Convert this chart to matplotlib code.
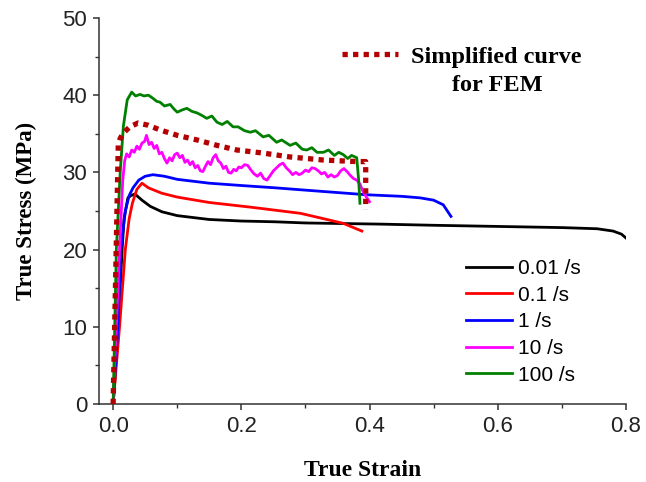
#!/usr/bin/env python3

import matplotlib
matplotlib.use('Agg')
import matplotlib.pyplot as plt
from matplotlib.lines import Line2D
from matplotlib.ticker import MultipleLocator

# 0.01 /s
strain_001 = [0, 0.008, 0.014, 0.017, 0.023, 0.028, 0.034, 0.045, 0.058, 0.076, 0.1, 0.15,
              0.2, 0.253, 0.3, 0.417, 0.5, 0.6, 0.7, 0.755, 0.78, 0.793, 0.8]
stress_001 = [0, 10, 20, 24, 26.7, 27.0, 27.2, 26.4, 25.6, 24.9, 24.4, 23.9,
              23.7, 23.6, 23.45, 23.3, 23.15, 23.0, 22.85, 22.7, 22.4, 22.0, 21.5]

# 0.1 /s
strain_01 = [0, 0.01, 0.019, 0.025, 0.03, 0.037, 0.045, 0.055, 0.076, 0.1, 0.15, 0.214,
             0.253, 0.292, 0.318, 0.359, 0.388]
stress_01 = [0, 10, 20, 24, 26, 27.8, 28.6, 28.0, 27.3, 26.8, 26.1, 25.5,
             25.1, 24.7, 24.2, 23.4, 22.4]

# 1 /s
strain_1 = [0, 0.0075, 0.012, 0.019, 0.025, 0.031, 0.04, 0.05, 0.062, 0.08, 0.1, 0.15,
            0.2, 0.253, 0.3, 0.396, 0.45, 0.479, 0.5, 0.515, 0.527]
stress_1 = [0, 10, 20, 25, 27.0, 28.0, 29.0, 29.5, 29.7, 29.5, 29.1, 28.6,
            28.3, 28.0, 27.7, 27.1, 26.9, 26.7, 26.4, 25.8, 24.3]

# 10 /s
strain_10 = [0.000, 0.006, 0.011, 0.015, 0.018,
             0.021, 0.025, 0.029, 0.033, 0.037, 0.041, 0.045, 0.049, 0.052,
             0.056, 0.060, 0.064, 0.068, 0.072, 0.076, 0.080, 0.084, 0.088, 0.092,
             0.096, 0.100, 0.104, 0.108, 0.112, 0.116, 0.120, 0.124, 0.128, 0.132,
             0.136, 0.140, 0.144, 0.148, 0.152, 0.156, 0.160, 0.164, 0.168, 0.172,
             0.176, 0.180, 0.184, 0.188, 0.192, 0.196, 0.200,
             0.205, 0.210, 0.215, 0.220, 0.225, 0.230, 0.235, 0.240, 0.245, 0.250,
             0.255, 0.260, 0.265, 0.270, 0.275, 0.280, 0.285, 0.290, 0.295, 0.300,
             0.305, 0.310, 0.315, 0.320, 0.325, 0.330, 0.335, 0.340, 0.345, 0.350,
             0.355, 0.360, 0.365, 0.370, 0.375, 0.380, 0.385, 0.390, 0.395, 0.400]
stress_10 = [0, 12, 22, 29, 31.5,
             32.4, 32.0, 32.9, 32.6, 33.4, 33.0, 33.8, 34.0, 34.8,
             33.6, 33.9, 33.1, 33.5, 32.4, 32.6, 31.8, 31.2, 31.9, 31.5,
             32.3, 32.5, 31.9, 32.2, 31.3, 31.6, 31.0, 31.4, 30.6, 30.9,
             30.2, 30.1, 30.8, 31.4, 31.0, 31.9, 32.3, 31.5, 31.2, 30.5,
             30.8, 30.0, 29.9, 30.4, 30.2, 30.7, 30.6,
             31.0, 30.9, 30.3, 29.8, 29.5, 29.9, 29.2, 29.0, 29.6, 30.2,
             30.6, 31.0, 31.2, 30.6, 30.2, 29.7, 30.0, 29.7, 29.9, 30.3,
             30.1, 30.6, 30.5, 30.2, 29.8, 30.0, 29.4, 29.7, 29.4, 29.6,
             30.2, 30.5, 30.1, 29.6, 29.2, 29.0, 28.5, 27.5, 26.8, 26.2]

# 100 /s
strain_100 = [0, 0.005, 0.011, 0.016, 0.022, 0.029, 0.035, 0.042, 0.048, 0.055, 0.062,
              0.068, 0.073, 0.08, 0.089, 0.095, 0.1, 0.108, 0.115, 0.123, 0.131, 0.138,
              0.146, 0.154, 0.162, 0.17, 0.178, 0.187, 0.195, 0.205, 0.214, 0.222,
              0.234, 0.243, 0.255, 0.263, 0.276, 0.285, 0.295, 0.302, 0.31, 0.318,
              0.328, 0.336, 0.345, 0.352, 0.359, 0.366, 0.372, 0.38, 0.383, 0.385]
stress_100 = [0, 20, 30, 36, 39.4, 40.4, 39.9, 40.1, 39.9, 40.0, 39.6,
              39.2, 39.1, 38.6, 38.8, 38.2, 37.8, 38.1, 38.3, 37.9, 37.7, 37.4,
              37.0, 37.3, 36.5, 36.2, 36.6, 35.9, 35.9, 35.4, 35.2, 35.4,
              34.6, 34.8, 33.9, 34.2, 33.5, 33.8, 33.0, 32.9, 33.2, 32.6,
              32.6, 32.9, 32.2, 32.6, 32.3, 31.8, 32.2, 31.9, 29.0, 26.0]

# simplified curve for FEM
strain_fem = [0, 0.008, 0.011, 0.016, 0.026, 0.039, 0.055, 0.073, 0.1, 0.131, 0.162,
              0.193, 0.234, 0.276, 0.328, 0.38, 0.394, 0.394]
stress_fem = [0, 33.5, 34.4, 35.1, 35.9, 36.4, 36.1, 35.5, 34.8, 34.2, 33.5,
              32.9, 32.5, 32.0, 31.6, 31.4, 31.4, 25.2]

series = [
    ('0.01 /s', strain_001, stress_001, 'black'),
    ('0.1 /s', strain_01, stress_01, '#ff0000'),
    ('1 /s', strain_1, stress_1, '#0000ff'),
    ('10 /s', strain_10, stress_10, '#ff00ff'),
    ('100 /s', strain_100, stress_100, '#008000'),
]

sans = ['Liberation Sans', 'DejaVu Sans']
serif = ['Liberation Serif', 'DejaVu Serif']
plt.rcParams['font.family'] = sans

fig = plt.figure(figsize=(6.46, 4.82), dpi=100)
ax = fig.add_axes([0.1533, 0.1618, 0.8157, 0.8009])

handles = []
for label, x, y, color in series:
    line, = ax.plot(x, y, color=color, linewidth=2.0, label=label)
    handles.append(line)

fem_color = '#b40000'
ax.plot(strain_fem, stress_fem, color=fem_color, linewidth=3.8,
        linestyle=(0, (1, 1)), zorder=4)

ax.set_xlim(-0.022, 0.8)
ax.set_ylim(0, 50)
ax.xaxis.set_major_locator(MultipleLocator(0.2))
ax.xaxis.set_minor_locator(MultipleLocator(0.1))
ax.yaxis.set_major_locator(MultipleLocator(10))
ax.yaxis.set_minor_locator(MultipleLocator(5))
ax.set_xticks([0.0, 0.2, 0.4, 0.6, 0.8])
ax.set_xticklabels(['0.0', '0.2', '0.4', '0.6', '0.8'])

for side in ['top', 'right']:
    ax.spines[side].set_visible(False)
for side in ['left', 'bottom']:
    ax.spines[side].set_linewidth(1.1)
    ax.spines[side].set_color('#333333')

ax.tick_params(which='major', direction='out', length=4.5, width=1.1,
               color='#333333', labelsize=16, pad=4, labelcolor='#222222')
ax.tick_params(which='minor', direction='out', length=3, width=1.0, color='#333333')

ax.set_xlabel('True Strain', fontsize=17, fontweight='bold', family=serif, labelpad=17)
ax.set_ylabel('True Stress (MPa)', fontsize=16.5, fontweight='bold', family=serif, labelpad=18)

leg = ax.legend(handles=handles, loc='center left', bbox_to_anchor=(0.696, 0.213),
                frameon=False, fontsize=15, labelspacing=0.37, handlelength=2.2,
                handletextpad=0.3, borderpad=0, borderaxespad=0)
ax.add_artist(leg)

fem_handle = Line2D([], [], color=fem_color, linewidth=3.8, linestyle=(0, (1, 1)))
leg2 = ax.legend(handles=[fem_handle], labels=['Simplified curve'], loc='center left',
                 bbox_to_anchor=(0.461, 0.899), frameon=False,
                 prop={'family': serif, 'weight': 'bold', 'size': 17.5},
                 handlelength=2.3, handletextpad=0.55, borderpad=0, borderaxespad=0)
ax.text(0.755, 0.826, 'for FEM', transform=ax.transAxes, ha='center', va='center',
        fontsize=17.5, fontweight='bold', family=serif)

fig.savefig('out.png', dpi=100)
